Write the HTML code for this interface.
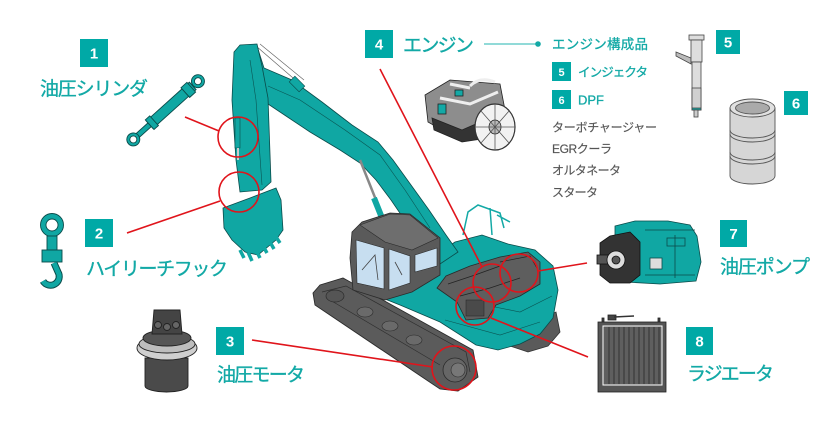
<!DOCTYPE html>
<html><head><meta charset="utf-8"><style>
html,body{margin:0;padding:0;background:#fff;}
svg{display:block;}
.lab{font-family:"Liberation Sans","Noto Sans CJK JP",sans-serif;fill:#13a9a6;font-size:19px;stroke:#13a9a6;stroke-width:0.35;}
.num{font-family:"Liberation Sans",sans-serif;fill:#fff;font-weight:bold;text-anchor:middle;}
.gr{font-family:"Liberation Sans","Noto Sans CJK JP",sans-serif;fill:#555;font-size:12px;stroke:#555;stroke-width:0.15;}
.sm{font-family:"Liberation Sans","Noto Sans CJK JP",sans-serif;fill:#13a9a6;stroke:#13a9a6;stroke-width:0.3;}
</style></head><body>
<svg width="840" height="446" viewBox="0 0 840 446" xmlns="http://www.w3.org/2000/svg">
<rect width="840" height="446" fill="#fff"/>

<!-- ===== Excavator ===== -->
<path d="M512,330 L556,312 L560,332 L548,346 L528,352 L510,346 Z" fill="#5a5a5a" stroke="#333" stroke-width="0.8"/>
<path d="M350,285 L385,280 L412,270 L440,252 L455,242 L482,235 L508,244 L535,250 L553,266 L558,290 L553,318 L540,334 L520,344 L498,350 L476,345 L440,322 L400,305 Z" fill="#10a7a3" stroke="#0a4b4a" stroke-width="0.8"/>
<path d="M445,320 L500,335 L540,322 M460,300 L520,312 L552,296" fill="none" stroke="#0a5553" stroke-width="0.6"/>
<path d="M463,235 L468,212 L478,205 L500,213 L504,228 M490,208 L492,235 M497,215 L510,222" fill="none" stroke="#13a9a6" stroke-width="1.5"/>
<path d="M437,288 L446,276 L470,266 L500,257 L528,252 L540,262 L540,284 L520,296 L496,305 L488,318 L466,320 L457,302 Z" fill="#5e5e5e" stroke="#2a2a2a" stroke-width="0.8"/>
<path d="M448,284 L475,275 L500,266 M460,296 L490,288 L520,278 M500,262 L530,256 L538,270" fill="none" stroke="#222" stroke-width="0.7"/>
<rect x="466" y="300" width="18" height="16" fill="#4a4a4a" stroke="#222" stroke-width="0.5"/>
<path d="M257,46 L264,68 L292,80 L322,102 L352,125 L378,142 L393,160 L411,185 L429,210 L446,235 L458,252 L440,264 L422,244 L406,222 L391,200 L376,180 L360,163 L340,150 L310,132 L286,116 L268,104 Z" fill="#10a7a3" stroke="#0a4b4a" stroke-width="0.8"/>
<path d="M268,86 L300,100 L345,130 L380,155 L405,190 L430,228" fill="none" stroke="#0a5553" stroke-width="0.6"/>
<path d="M256,46 L300,84 M260,44 L304,80" stroke="#666" stroke-width="0.7"/>
<rect x="293" y="77" width="8" height="14" transform="rotate(-45 297 84)" fill="#10a7a3" stroke="#0a4b4a" stroke-width="0.6"/>
<path d="M360,160 L378,205" stroke="#888" stroke-width="2.5"/>
<path d="M374,198 L382,218" stroke="#10a7a3" stroke-width="6"/>
<path d="M234,52 L240,45 L257,44 L262,66 L268,98 L271,182 L262,190 L240,192 L236,160 L232,100 Z" fill="#10a7a3" stroke="#0a4b4a" stroke-width="0.8"/>
<path d="M250,60 L256,100 L262,185" fill="none" stroke="#0a5553" stroke-width="0.6"/>
<rect x="235" y="118" width="5" height="30" fill="#10a7a3" stroke="#0a4b4a" stroke-width="0.6"/>
<rect x="237" y="148" width="2" height="12" fill="#ccc"/>
<path d="M223,208 L250,198 L276,188 L281,200 L283,230 L276,240 L258,255 L245,252 L232,240 L224,228 Z" fill="#10a7a3" stroke="#0a4b4a" stroke-width="0.8"/>
<path d="M240,250 L244,258 M248,252 L252,261 M256,250 L260,258 M263,246 L267,253 M270,242 L274,249 M276,237 L280,243" stroke="#10a7a3" stroke-width="3.5"/>
<path d="M313,293 L320,285 L343,278 L473,350 L478,377 L458,391 L440,389 L315,305 Z" fill="#5b5b5b" stroke="#2b2b2b" stroke-width="0.9"/>
<path d="M322,292 L346,286 L466,352 L470,372 M330,300 L440,365" fill="none" stroke="#2f2f2f" stroke-width="0.7"/>
<ellipse cx="335" cy="296" rx="9" ry="6" fill="#555" stroke="#2b2b2b" stroke-width="0.7"/>
<ellipse cx="365" cy="312" rx="8" ry="5" fill="#6a6a6a" stroke="#2b2b2b" stroke-width="0.6"/>
<ellipse cx="390" cy="326" rx="8" ry="5" fill="#6a6a6a" stroke="#2b2b2b" stroke-width="0.6"/>
<ellipse cx="414" cy="340" rx="8" ry="5" fill="#6a6a6a" stroke="#2b2b2b" stroke-width="0.6"/>
<circle cx="455" cy="370" r="12" fill="#666" stroke="#2b2b2b" stroke-width="0.8"/>
<circle cx="458" cy="370" r="7" fill="#777" stroke="#2b2b2b" stroke-width="0.6"/>
<path d="M352,232 L362,222 L390,213 L410,214 L440,238 L440,275 L412,292 L385,300 L353,290 L350,258 Z" fill="#5a5a5a" stroke="#2b2b2b" stroke-width="0.8"/>
<path d="M360,225 L390,214 L410,215 L438,238 L412,250 L385,242 Z" fill="#6e6e6e" stroke="#2b2b2b" stroke-width="0.6"/>
<path d="M356,240 L384,248 L384,289 L357,283 Z" fill="#c7def0" stroke="#2b2b2b" stroke-width="0.6"/>
<path d="M389,249 L410,256 L410,283 L389,290 Z" fill="#c7def0" stroke="#2b2b2b" stroke-width="0.6"/>
<path d="M415,255 L437,248 L437,266 L415,272 Z" fill="#c7def0" stroke="#2b2b2b" stroke-width="0.6"/>
<path d="M362,270 L375,255 L378,280 M395,262 L402,275" stroke="#444" stroke-width="0.8" fill="none"/>

<!-- ===== red callouts ===== -->
<g fill="none" stroke="#e0141b" stroke-width="1.6">
<line x1="185" y1="117" x2="219" y2="131"/>
<circle cx="238" cy="137" r="20"/>
<line x1="127" y1="233" x2="220" y2="201"/>
<circle cx="239" cy="192" r="20"/>
<line x1="252" y1="340" x2="433" y2="367"/>
<circle cx="454" cy="368" r="22"/>
<line x1="380" y1="69" x2="482" y2="267"/>
<circle cx="492" cy="283" r="19"/>
<circle cx="519" cy="273" r="19"/>
<circle cx="475" cy="306" r="19"/>
<line x1="538" y1="271" x2="587" y2="263"/>
<line x1="491" y1="318" x2="588" y2="357"/>
</g>

<!-- ===== 1 cylinder ===== -->
<g transform="translate(166,110) rotate(-42)" stroke="#0a4b4a" stroke-width="0.9">
<rect x="-40" y="-2.5" width="22" height="5" fill="#10a7a3"/>
<rect x="-22" y="-5" width="58" height="10" fill="#10a7a3"/>
<rect x="-22" y="-6.5" width="6" height="13" fill="#10a7a3"/>
<rect x="26" y="-6.5" width="8" height="13" fill="#10a7a3"/>
<circle cx="-44" cy="0" r="6.5" fill="#10a7a3"/><circle cx="-44" cy="0" r="3.5" fill="#fff"/>
<circle cx="43" cy="0" r="6.5" fill="#10a7a3"/><circle cx="43" cy="0" r="3.5" fill="#fff"/>
</g>
<rect x="80" y="39" width="28" height="28" fill="#00a9a6"/>
<text x="94" y="58.5" class="num" font-size="15">1</text>
<text x="40" y="95" class="lab" textLength="108">油圧シリンダ</text>

<!-- ===== 2 hook ===== -->
<g stroke="#0a4b4a" stroke-width="0.9">
<circle cx="52" cy="225" r="11.5" fill="#10a7a3"/>
<circle cx="52" cy="225" r="6" fill="#fff"/>
<rect x="47" y="236" width="10" height="14" fill="#10a7a3"/>
<rect x="42" y="250" width="20" height="12" fill="#10a7a3"/>
</g>
<path d="M54,263 L58,272 A8.5,8.5 0 1 1 43,281" fill="none" stroke="#0a4b4a" stroke-width="7"/>
<path d="M54,263 L58,272 A8.5,8.5 0 1 1 43,281" fill="none" stroke="#10a7a3" stroke-width="5"/>
<rect x="85" y="219" width="28" height="28" fill="#00a9a6"/>
<text x="99" y="238.5" class="num" font-size="15">2</text>
<text x="86" y="275" class="lab" textLength="142">ハイリーチフック</text>

<!-- ===== 3 motor ===== -->
<g stroke="#222" stroke-width="0.9">
<path d="M145,358 L145,386 A21.5,6 0 0 0 188,386 L188,358 Z" fill="#4a4a4a"/>
<ellipse cx="167" cy="348" rx="30" ry="12" fill="#cfcfcf"/>
<ellipse cx="167" cy="344" rx="28" ry="9" fill="#bdbdbd"/>
<ellipse cx="167" cy="338" rx="24" ry="8" fill="#555"/>
<path d="M152,334 L154,310 L180,310 L182,334 Z" fill="#444"/>
<circle cx="158" cy="325" r="3.5" fill="#666"/><circle cx="167" cy="327" r="3.5" fill="#666"/><circle cx="176" cy="325" r="3.5" fill="#666"/>
</g>
<rect x="216" y="327" width="28" height="28" fill="#00a9a6"/>
<text x="230" y="346.5" class="num" font-size="15">3</text>
<text x="217" y="381" class="lab" textLength="88">油圧モータ</text>

<!-- ===== 4 engine ===== -->
<g stroke="#222" stroke-width="0.8">
<path d="M425,95 L450,80 L500,84 L505,110 L480,138 L460,140 L428,122 Z" fill="#8d8d8d"/>
<path d="M432,118 L462,130 L485,120 L488,138 L462,142 L434,130 Z" fill="#333"/>
<path d="M450,84 L470,88 M470,86 Q480,76 495,82 M440,98 L470,104 L498,92" fill="none" stroke="#eee" stroke-width="3"/>
<rect x="455" y="90" width="8" height="6" fill="#13a9a6"/>
<rect x="438" y="104" width="8" height="10" fill="#13a9a6"/>
<ellipse cx="495" cy="127" rx="20" ry="23" fill="#f2f2f2" stroke="#333" stroke-width="1.2"/>
<ellipse cx="495" cy="127" rx="6" ry="7" fill="#bbb"/>
<path d="M495,104 L495,150 M475,127 L515,127 M481,111 L509,143 M509,111 L481,143" stroke="#555" stroke-width="0.8"/>
</g>
<rect x="365" y="30" width="28" height="28" fill="#00a9a6"/>
<text x="379" y="49.5" class="num" font-size="15">4</text>
<text x="403" y="51.5" class="lab" textLength="71">エンジン</text>
<line x1="484" y1="44" x2="537" y2="44" stroke="#6dcdcb" stroke-width="1.5"/>
<circle cx="538" cy="44" r="2.8" fill="#13a9a6"/>
<text x="552" y="49" class="sm" font-size="13.5" textLength="96">エンジン構成品</text>
<rect x="552" y="62" width="19" height="19" fill="#00a9a6"/>
<text x="561.5" y="76" class="num" font-size="11">5</text>
<text x="578" y="76.5" class="sm" font-size="12.5" textLength="70">インジェクタ</text>
<rect x="552" y="90" width="19" height="19" fill="#00a9a6"/>
<text x="561.5" y="104" class="num" font-size="11">6</text>
<text x="578" y="104.5" class="sm" font-size="13">DPF</text>
<text x="552" y="131.5" class="gr" textLength="105">ターボチャージャー</text>
<text x="552" y="153" class="gr" textLength="60">EGRクーラ</text>
<text x="552" y="174.5" class="gr" textLength="69">オルタネータ</text>
<text x="552" y="196.5" class="gr" textLength="46">スタータ</text>

<!-- ===== 5 injector ===== -->
<g stroke="#444" stroke-width="0.8">
<path d="M676,52 L691,58 L691,64 L676,56 Z" fill="#bbb"/>
<rect x="689" y="35" width="15" height="5" fill="#ddd"/>
<rect x="691" y="40" width="11" height="22" fill="#ddd"/>
<rect x="692" y="62" width="9" height="48" fill="#ddd"/>
<rect x="692" y="88" width="9" height="22" fill="#d0d0d0"/>
<rect x="692" y="108" width="9" height="2" fill="#13a9a6"/>
<rect x="694" y="110" width="4" height="7" fill="#ccc"/>
</g>
<rect x="716" y="30" width="24" height="24" fill="#00a9a6"/>
<text x="728" y="47.5" class="num" font-size="15">5</text>

<!-- ===== 6 DPF ===== -->
<g stroke="#555" stroke-width="0.9">
<path d="M730,108 L730,176 A22.5,8 0 0 0 775,176 L775,108 Z" fill="#d6d6d6"/>
<path d="M730,130 A22.5,8 0 0 0 775,130 M730,152 A22.5,8 0 0 0 775,152 M730,134 A22.5,8 0 0 0 775,134 M730,156 A22.5,8 0 0 0 775,156" fill="none"/>
<ellipse cx="752.5" cy="108" rx="22.5" ry="9" fill="#e0e0e0"/>
<ellipse cx="752.5" cy="108" rx="17" ry="6" fill="#aaa"/>
</g>
<rect x="784" y="91" width="24" height="24" fill="#00a9a6"/>
<text x="796" y="108.5" class="num" font-size="15">6</text>

<!-- ===== 7 pump ===== -->
<g stroke="#0a4b4a" stroke-width="0.8">
<path d="M615,226 L635,221 L668,221 L690,225 L697,236 L701,262 L696,281 L660,284 L625,282 L615,272 Z" fill="#10a7a3"/>
<path d="M610,236 L630,232 L640,242 L640,275 L630,283 L610,283 L600,275 L600,243 Z" fill="#333" stroke="#111"/>
<rect x="597" y="255" width="15" height="9" fill="#555" stroke="#111"/>
<circle cx="616" cy="260" r="9" fill="#ddd" stroke="#111"/>
<circle cx="616" cy="260" r="4" fill="#555" stroke="#111"/>
<rect x="650" y="258" width="12" height="11" fill="#ddd"/>
<rect x="667" y="238" width="18" height="8" fill="none"/>
<path d="M645,230 L695,230 M645,275 L695,275 M675,235 L675,278" fill="none"/>
</g>
<rect x="720" y="220" width="27" height="27" fill="#00a9a6"/>
<text x="733.5" y="239" class="num" font-size="15">7</text>
<text x="720" y="273" class="lab" textLength="90">油圧ポンプ</text>

<!-- ===== 8 radiator ===== -->
<g stroke="#222" stroke-width="0.8">
<rect x="608" y="315" width="8" height="5" fill="#444"/>
<line x1="614" y1="317" x2="634" y2="316" stroke="#333" stroke-width="1.5"/>
<rect x="602" y="318" width="2" height="5" fill="#444"/>
<rect x="658" y="318" width="2" height="5" fill="#444"/>
<rect x="598" y="322" width="68" height="70" fill="#555"/>
<rect x="603" y="326" width="59" height="59" fill="#5f5f5f" stroke="#fff" stroke-width="1"/>
<path d="M609,327 V384 M614,327 V384 M619,327 V384 M624,327 V384 M629,327 V384 M634,327 V384 M639,327 V384 M644,327 V384 M649,327 V384 M654,327 V384 M659,327 V384" stroke="#333" stroke-width="1"/>
</g>
<rect x="686" y="327" width="27" height="28" fill="#00a9a6"/>
<text x="699.5" y="346.5" class="num" font-size="15">8</text>
<text x="687" y="380" class="lab" textLength="87">ラジエータ</text>
</svg>
</body></html>
